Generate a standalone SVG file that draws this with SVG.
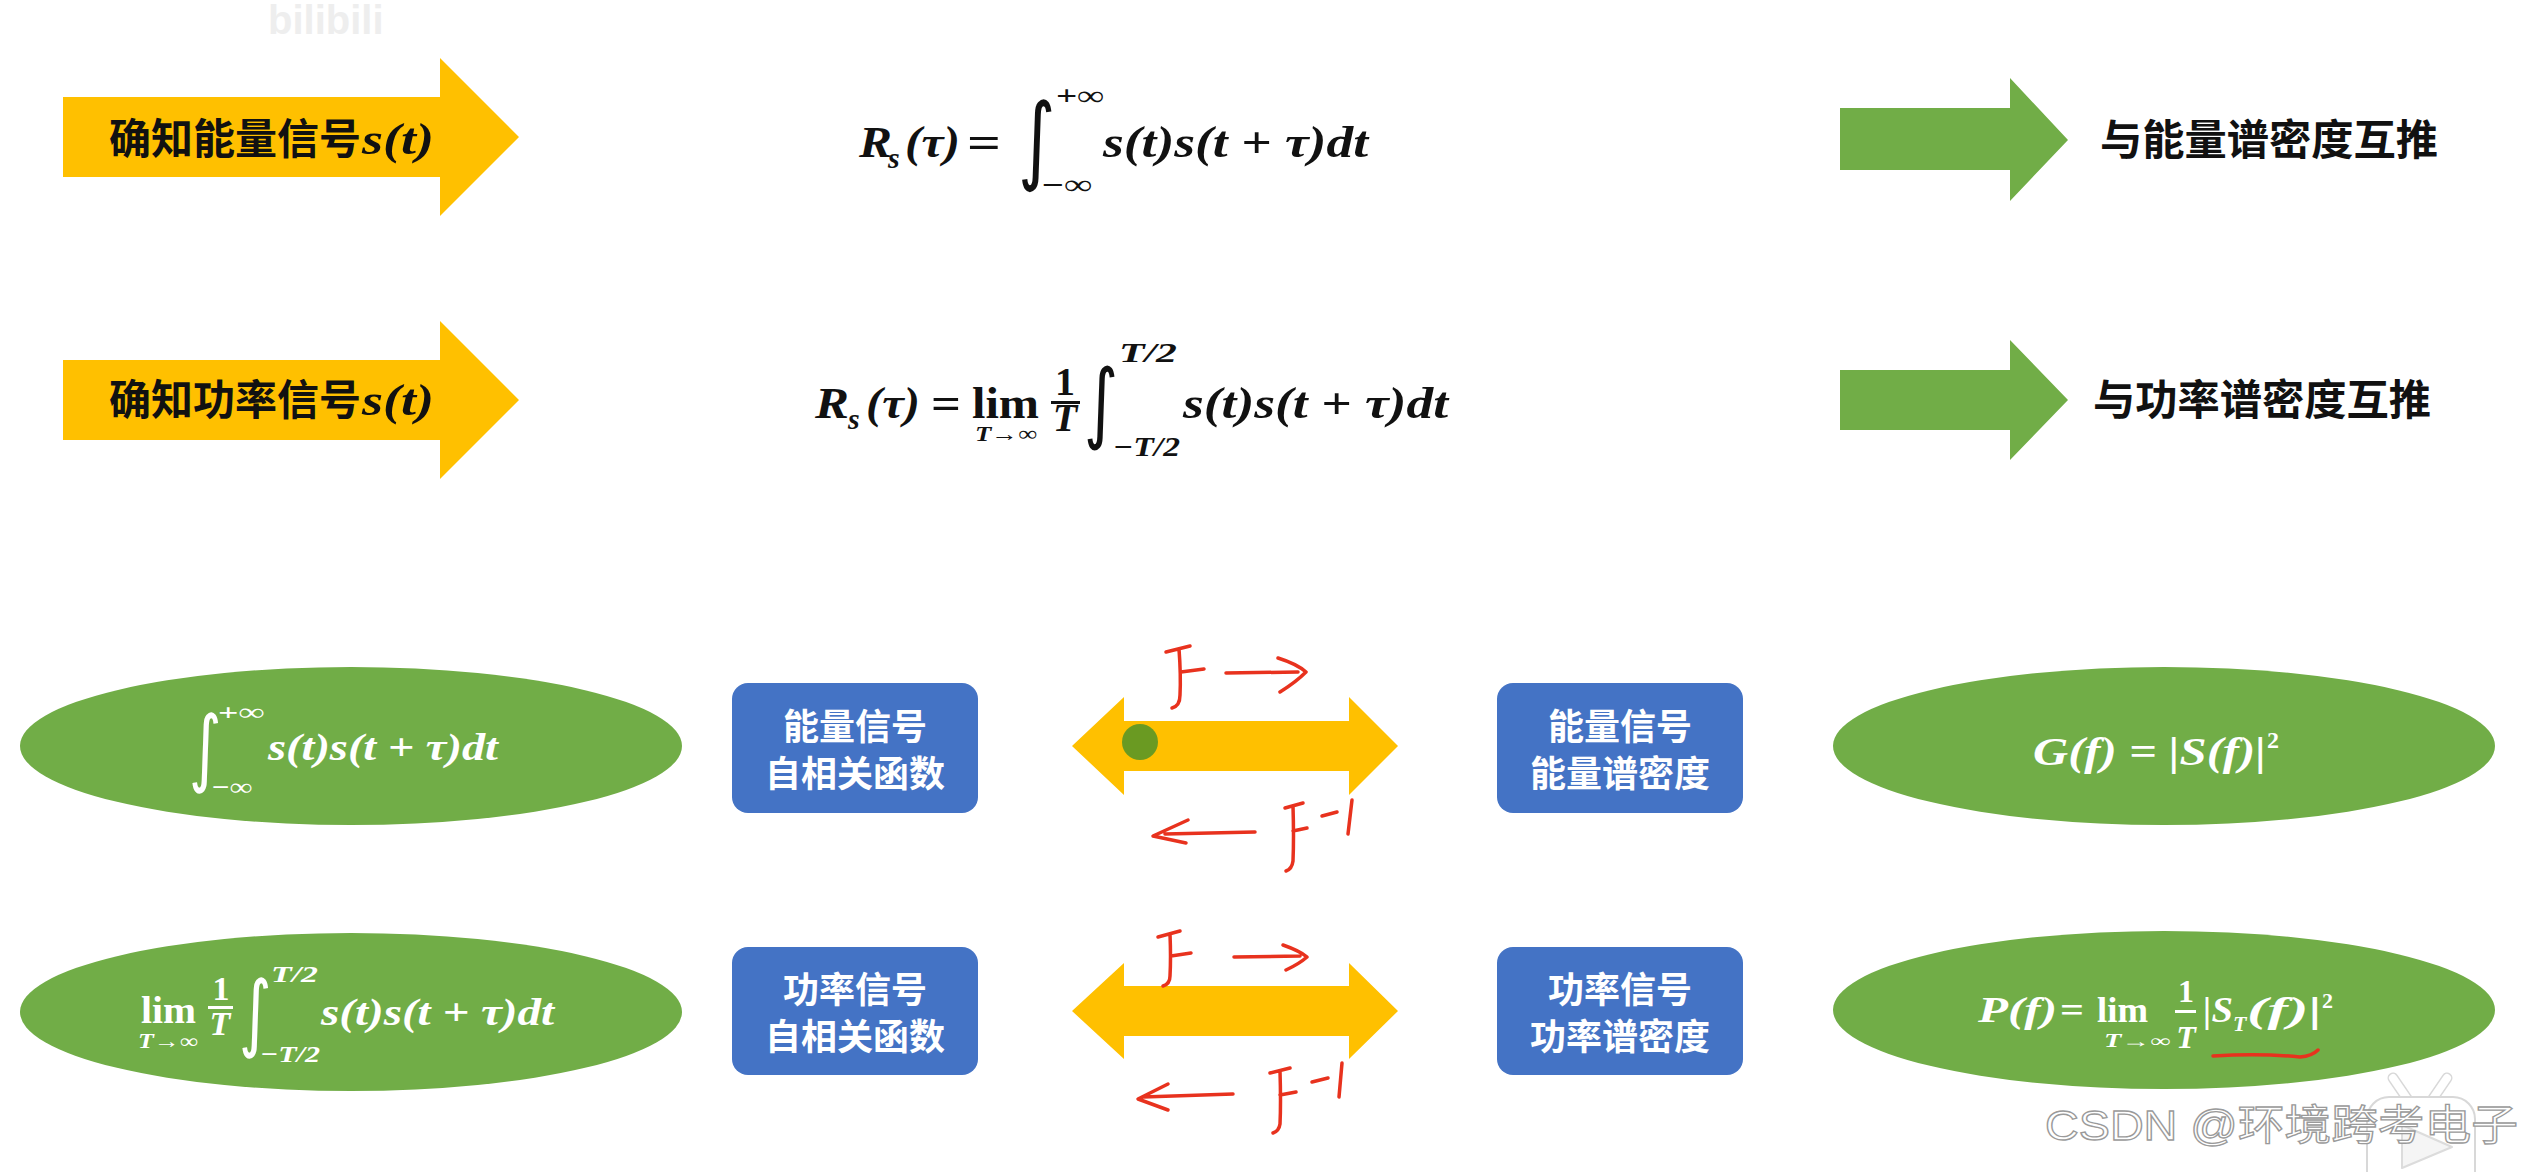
<svg xmlns="http://www.w3.org/2000/svg" width="2530" height="1172" viewBox="0 0 2530 1172">
<style>
.cjk{font-family:"Noto Sans CJK SC","Noto Sans",sans-serif;font-weight:700}
.lbl{fill:#111;font-size:42px}
.box{fill:#4473C5}
.boxt{fill:#fff;font-size:36px;text-anchor:middle}
.ell{fill:#71AD47}
.mi{font-family:"Liberation Serif","DejaVu Serif",serif;font-style:italic;font-weight:700}
.mo{font-family:"Liberation Serif","DejaVu Serif",serif;font-style:normal;font-weight:700}
.int{font-family:"DejaVu Sans","Liberation Sans",sans-serif;font-weight:400}
.blk{fill:#111}
.wht{fill:#fff}
.yel{fill:#FFC000}
.grn{fill:#71AD47}
.red{fill:none;stroke:#E8321E;stroke-width:3.5;stroke-linecap:round;stroke-linejoin:round}
.wm{font-family:"Liberation Sans","Noto Sans CJK SC",sans-serif;font-size:42px;fill:#fff;stroke:#9a9a9a;stroke-width:1.3}
</style>
<rect width="2530" height="1172" fill="#fff"/>
<text x="268" y="34" font-family="Liberation Sans,sans-serif" font-weight="700" font-size="40" fill="#eeeeee">bilibili</text>

<!-- row 1 yellow label -->
<g id="energy-label">
<path class="yel" d="M63,97 L440,97 L440,58 L519,137 L440,216 L440,177 L63,177 Z"/>
<text class="cjk lbl" x="109" y="154">确知能量信号</text>
<text class="mi blk" x="362" y="154" font-size="44" textLength="72" lengthAdjust="spacingAndGlyphs">s(t)</text>
</g>
<g id="power-label">
<path class="yel" d="M63,360 L440,360 L440,321 L519,400 L440,479 L440,440 L63,440 Z"/>
<text class="cjk lbl" x="109" y="415">确知功率信号</text>
<text class="mi blk" x="362" y="415" font-size="44" textLength="72" lengthAdjust="spacingAndGlyphs">s(t)</text>
</g>

<!-- formula 1 -->
<g id="formula-energy" class="blk">
<text class="mi" x="859" y="157" font-size="44" textLength="33" lengthAdjust="spacingAndGlyphs">R</text>
<text class="mi" x="888" y="168" font-size="30">s</text>
<text class="mi" x="905" y="157" font-size="44" textLength="55" lengthAdjust="spacingAndGlyphs">(τ)</text>
<text class="mo" x="984" y="157" font-size="44" text-anchor="middle" textLength="34" lengthAdjust="spacingAndGlyphs">=</text>
<text class="int" transform="translate(1018,172) scale(0.75,1)" font-size="96">∫</text>
<text class="mo" x="1056" y="105" font-size="28" textLength="48" lengthAdjust="spacingAndGlyphs">+∞</text>
<text class="mo" x="1042" y="194" font-size="28" textLength="50" lengthAdjust="spacingAndGlyphs">−∞</text>
<text class="mi" x="1103" y="157" font-size="44" textLength="265" lengthAdjust="spacingAndGlyphs">s(t)s(t + τ)dt</text>
</g>

<!-- formula 2 -->
<g id="formula-power" class="blk">
<text class="mi" x="815" y="418" font-size="44" textLength="34" lengthAdjust="spacingAndGlyphs">R</text>
<text class="mi" x="848" y="429" font-size="30">s</text>
<text class="mi" x="866" y="418" font-size="44" textLength="54" lengthAdjust="spacingAndGlyphs">(τ)</text>
<text class="mo" x="946" y="418" font-size="44" text-anchor="middle" textLength="30" lengthAdjust="spacingAndGlyphs">=</text>
<text class="mo" x="972" y="418" font-size="44" textLength="67" lengthAdjust="spacingAndGlyphs">lim</text>
<text class="mi" x="975" y="441" font-size="22" textLength="62" lengthAdjust="spacingAndGlyphs">T→∞</text>
<text class="mo" x="1065" y="395" font-size="40" text-anchor="middle">1</text>
<rect x="1051" y="401" width="29" height="3"/>
<text class="mi" x="1065" y="431" font-size="40" text-anchor="middle">T</text>
<text class="int" transform="translate(1084,432) scale(0.75,1)" font-size="88">∫</text>
<text class="mi" x="1119" y="362" font-size="28" textLength="58" lengthAdjust="spacingAndGlyphs">T/2</text>
<text class="mi" x="1113" y="456" font-size="28" textLength="67" lengthAdjust="spacingAndGlyphs">−T/2</text>
<text class="mi" x="1183" y="418" font-size="44" textLength="265" lengthAdjust="spacingAndGlyphs">s(t)s(t + τ)dt</text>
</g>

<!-- right green arrows + labels -->
<g id="energy-psd-note">
<path class="grn" d="M1840,108 L2010,108 L2010,78 L2068,140 L2010,201 L2010,170 L1840,170 Z"/>
<text class="cjk lbl" x="2100" y="155" textLength="338" lengthAdjust="spacingAndGlyphs">与能量谱密度互推</text>
</g>
<g id="power-psd-note">
<path class="grn" d="M1840,370 L2010,370 L2010,340 L2068,400 L2010,460 L2010,430 L1840,430 Z"/>
<text class="cjk lbl" x="2093" y="415" textLength="338" lengthAdjust="spacingAndGlyphs">与功率谱密度互推</text>
</g>

<!-- bottom ellipses -->
<g id="ellipse-energy-acf">
<ellipse class="ell" cx="351" cy="746" rx="331" ry="79"/>
<g class="wht">
<text class="int" transform="translate(189,776) scale(0.75,1)" font-size="84">∫</text>
<text class="mo" x="218" y="720" font-size="24" textLength="46" lengthAdjust="spacingAndGlyphs">+∞</text>
<text class="mo" x="212" y="795" font-size="24" textLength="40" lengthAdjust="spacingAndGlyphs">−∞</text>
<text class="mi" x="268" y="760" font-size="38" textLength="230" lengthAdjust="spacingAndGlyphs">s(t)s(t + τ)dt</text>
</g>
</g>
<g id="ellipse-power-acf">
<ellipse class="ell" cx="351" cy="1012" rx="331" ry="79"/>
<g class="wht">
<text class="mo" x="141" y="1023" font-size="38" textLength="55" lengthAdjust="spacingAndGlyphs">lim</text>
<text class="mi" x="138" y="1048" font-size="20" textLength="60" lengthAdjust="spacingAndGlyphs">T→∞</text>
<text class="mo" x="221" y="1000" font-size="34" text-anchor="middle">1</text>
<rect x="208" y="1006" width="25" height="3"/>
<text class="mi" x="220" y="1035" font-size="34" text-anchor="middle">T</text>
<text class="int" transform="translate(239,1041) scale(0.75,1)" font-size="84">∫</text>
<text class="mi" x="271" y="982" font-size="24" textLength="47" lengthAdjust="spacingAndGlyphs">T/2</text>
<text class="mi" x="260" y="1062" font-size="24" textLength="60" lengthAdjust="spacingAndGlyphs">−T/2</text>
<text class="mi" x="321" y="1025" font-size="38" textLength="233" lengthAdjust="spacingAndGlyphs">s(t)s(t + τ)dt</text>
</g>
</g>
<g id="ellipse-energy-psd">
<ellipse class="ell" cx="2164" cy="746" rx="331" ry="79"/>
<g class="wht">
<text class="mi" x="2033" y="765" font-size="40" textLength="233" lengthAdjust="spacingAndGlyphs">G(f) = |S(f)|</text>
<text class="mo" x="2267" y="748" font-size="24">2</text>
</g>
</g>
<g id="ellipse-power-psd">
<ellipse class="ell" cx="2164" cy="1010" rx="331" ry="79"/>
<g class="wht">
<text class="mi" x="1978" y="1022" font-size="36" textLength="79" lengthAdjust="spacingAndGlyphs">P(f)</text>
<text class="mo" x="2072" y="1022" font-size="36" text-anchor="middle" textLength="24" lengthAdjust="spacingAndGlyphs">=</text>
<text class="mo" x="2097" y="1022" font-size="36" textLength="51" lengthAdjust="spacingAndGlyphs">lim</text>
<text class="mi" x="2104" y="1047" font-size="18" textLength="66" lengthAdjust="spacingAndGlyphs">T→∞</text>
<text class="mo" x="2186" y="1002" font-size="32" text-anchor="middle">1</text>
<rect x="2175" y="1010" width="21" height="3"/>
<text class="mi" x="2186" y="1048" font-size="32" text-anchor="middle">T</text>
<text class="mi" x="2203" y="1022" font-size="36" textLength="30" lengthAdjust="spacingAndGlyphs">|S</text>
<text class="mi" x="2233" y="1031" font-size="22">T</text>
<text class="mi" x="2247" y="1022" font-size="36" textLength="75" lengthAdjust="spacingAndGlyphs">(f)|</text>
<text class="mo" x="2322" y="1008" font-size="22">2</text>
</g>
<path class="red" d="M2213,1056 Q2260,1053 2300,1057 Q2312,1056 2318,1050"/>
</g>

<!-- blue boxes -->
<g id="energy-acf">
<rect class="box" x="732" y="683" width="246" height="130" rx="16"/>
<text class="cjk boxt" x="855" y="740">能量信号</text>
<text class="cjk boxt" x="855" y="787">自相关函数</text>
</g>
<g id="energy-esd">
<rect class="box" x="1497" y="683" width="246" height="130" rx="16"/>
<text class="cjk boxt" x="1620" y="740">能量信号</text>
<text class="cjk boxt" x="1620" y="787">能量谱密度</text>
</g>
<g id="power-acf">
<rect class="box" x="732" y="947" width="246" height="128" rx="16"/>
<text class="cjk boxt" x="855" y="1003">功率信号</text>
<text class="cjk boxt" x="855" y="1050">自相关函数</text>
</g>
<g id="power-psd">
<rect class="box" x="1497" y="947" width="246" height="128" rx="16"/>
<text class="cjk boxt" x="1620" y="1003">功率信号</text>
<text class="cjk boxt" x="1620" y="1050">功率谱密度</text>
</g>

<!-- connectors -->
<g id="connectors">
<path class="yel" d="M1072,746 L1124,697 L1124,721 L1349,721 L1349,697 L1398,746 L1349,795 L1349,771 L1124,771 L1124,795 Z"/>
<circle cx="1140" cy="742" r="18" fill="#6A9A22"/>
<path class="yel" d="M1072,1011 L1124,963 L1124,986 L1349,986 L1349,963 L1398,1011 L1349,1059 L1349,1036 L1124,1036 L1124,1059 Z"/>
</g>

<!-- handwritten annotations -->
<g id="annotations">
<g transform="translate(1166,645)">
<path class="red" d="M0,7 L24,1 M13,4 Q15,30 14,50 Q14,61 6,63 M15,27 L38,24"/>
</g>
<path class="red" d="M1226,673 L1298,672 M1278,658 Q1297,664 1306,672 Q1296,682 1280,692"/>
<path class="red" d="M1255,832 L1165,834 M1188,820 L1153,836 L1186,843"/>
<g transform="translate(1285,803)">
<path class="red" d="M0,5 L18,0 M8,3 Q9,35 8,58 Q7,66 1,68 M8,28 L22,25"/>
</g>
<path class="red" d="M1322,816 L1337,812 M1352,800 L1348,834"/>

<g transform="translate(1158,930)">
<path class="red" d="M0,7 L22,1 M12,4 Q13,28 12,46 Q12,54 5,56 M13,26 L33,23"/>
</g>
<path class="red" d="M1234,957 L1300,956 M1283,945 Q1300,951 1307,957 Q1299,964 1286,970"/>
<path class="red" d="M1233,1094 L1143,1097 M1168,1084 L1138,1099 L1168,1110"/>
<g transform="translate(1270,1068)">
<path class="red" d="M0,5 L20,0 M10,3 Q11,35 10,56 Q9,63 3,65 M10,27 L26,24"/>
</g>
<path class="red" d="M1312,1082 L1328,1078 M1342,1063 L1339,1097"/>
</g>

<!-- watermark -->
<g id="watermark">
<g opacity="0.85">
<path d="M2393,1078 L2408,1100 M2447,1078 L2432,1100" stroke="#d2d2d2" stroke-width="11" stroke-linecap="round"/>
<path d="M2393,1078 L2408,1100 M2447,1078 L2432,1100" stroke="#fff" stroke-width="8" stroke-linecap="round"/>
<rect x="2367" y="1097" width="108" height="100" rx="22" fill="#fff" stroke="#d2d2d2" stroke-width="2"/>
<path d="M2402,1125 L2452,1147 L2402,1168 Z" fill="#f4f4f4" stroke="#d6d6d6" stroke-width="2" stroke-linejoin="round"/>
</g>
<text class="wm" x="2045" y="1140" textLength="473" lengthAdjust="spacingAndGlyphs">CSDN @环境跨考电子</text>
</g>
</svg>
